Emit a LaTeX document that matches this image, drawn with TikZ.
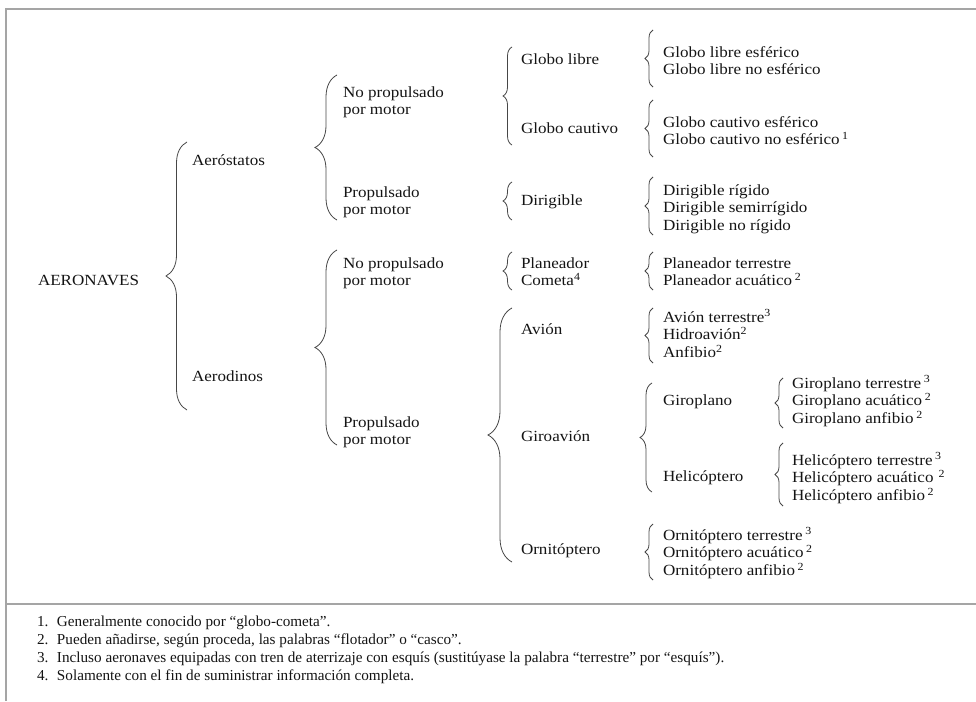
\documentclass[tikz,border=0pt]{standalone}
\usepackage{fontspec}
\setmainfont[FakeStretch=1.1]{Liberation Serif}
\newfontfamily\notefont{Liberation Serif}
\usetikzlibrary{decorations.pathreplacing}
\definecolor{txt}{RGB}{20,20,20}
\definecolor{brcol}{RGB}{70,70,70}
\definecolor{framecol}{RGB}{165,165,165}
\newcommand{\mlines}[1]{\begin{tabular}[t]{@{}l@{}}#1\end{tabular}}
\newcommand{\fn}[1]{\,\textsuperscript{#1}}
\newcommand{\fnn}[1]{\textsuperscript{#1}}
\begin{document}
\begin{tikzpicture}[x=1pt,y=-1pt,
  lbl/.style={inner sep=0pt, outer sep=0pt, anchor=base west, text=txt,
    font=\fontsize{15.5}{17.5}\selectfont},
  note/.style={inner sep=0pt, outer sep=0pt, anchor=base west, text=txt,
    font=\notefont\fontsize{15.2}{18}\selectfont},
  brc/.style={draw=brcol, line width=0.8pt, decorate,
    decoration={brace, amplitude=#1}},
  frame/.style={draw=framecol, line width=2pt}]
\useasboundingbox (0,0) rectangle (976,701);
% frame
\coordinate (fbl) at (6,701);
\coordinate (ftl) at (6,9.5);
\coordinate (ftr) at (976,9.5);
\coordinate (sl) at (6,604);
\coordinate (sr) at (976,604);
\draw[frame] (fbl) -- (ftl) -- (ftr);
\draw[frame] (sl) -- (sr);

% level 1
\node[lbl] (aer) at (38,285) {AERONAVES};
% level 2
\node[lbl] (aerost) at (192,165) {Aeróstatos};
\node[lbl] (aerod) at (192,381) {Aerodinos};
% level 3
\node[lbl] (np1) at (343,97) {\mlines{No propulsado\\por motor}};
\node[lbl] (p1) at (343,197) {\mlines{Propulsado\\por motor}};
\node[lbl] (np2) at (343,268) {\mlines{No propulsado\\por motor}};
\node[lbl] (p2) at (343,427) {\mlines{Propulsado\\por motor}};
% level 4
\node[lbl] (gl) at (521,64) {Globo libre};
\node[lbl] (gc) at (521,133) {Globo cautivo};
\node[lbl] (dir) at (521,205) {Dirigible};
\node[lbl] (plan) at (521,268) {\mlines{Planeador\\Cometa\fnn{4}}};
\node[lbl] (avion) at (521,334) {Avión};
\node[lbl] (giroav) at (521,441) {Giroavión};
\node[lbl] (orni) at (521,554) {Ornitóptero};
% level 5
\node[lbl] (gl2) at (663,57) {\mlines{Globo libre esférico\\Globo libre no esférico}};
\node[lbl] (gc2) at (663,127) {\mlines{Globo cautivo esférico\\Globo cautivo no esférico\fn{1}}};
\node[lbl] (dir2) at (663,195) {\mlines{Dirigible rígido\\Dirigible semirrígido\\Dirigible no rígido}};
\node[lbl] (plan2) at (663,268) {\mlines{Planeador terrestre\\Planeador acuático\fn{2}}};
\node[lbl] (avion2) at (663,322) {\mlines{Avión terrestre\fnn{3}\\Hidroavión\fnn{2}\\Anfibio\fnn{2}}};
\node[lbl] (girop) at (663,405) {Giroplano};
\node[lbl] (heli) at (663,481) {Helicóptero};
\node[lbl] (orni2) at (663,540) {\mlines{Ornitóptero terrestre\fn{3}\\Ornitóptero acuático\fn{2}\\Ornitóptero anfibio\fn{2}}};
% level 6
\node[lbl] (girop2) at (792,388) {\mlines{Giroplano terrestre\fn{3}\\Giroplano acuático\fn{2}\\Giroplano anfibio\fn{2}}};
\node[lbl] (heli2) at (792,465) {\mlines{Helicóptero terrestre\fn{3}\\Helicóptero acuático\,\fn{2}\\Helicóptero anfibio\fn{2}}};

% braces
\coordinate (b1b) at (187,410); \coordinate (b1t) at (187,142);
\coordinate (b2b) at (337,220); \coordinate (b2t) at (337,75);
\coordinate (b3b) at (337,445); \coordinate (b3t) at (337,250);
\coordinate (b4b) at (512,145); \coordinate (b4t) at (512,47);
\coordinate (b5b) at (512,220); \coordinate (b5t) at (512,182);
\coordinate (b6b) at (512,290); \coordinate (b6t) at (512,252);
\coordinate (b7b) at (512,562); \coordinate (b7t) at (512,308);
\coordinate (b8b) at (653,87);  \coordinate (b8t) at (653,30);
\coordinate (b9b) at (653,157); \coordinate (b9t) at (653,100);
\coordinate (b10b) at (653,235); \coordinate (b10t) at (653,177);
\coordinate (b11b) at (653,290); \coordinate (b11t) at (653,252);
\coordinate (b12b) at (653,363); \coordinate (b12t) at (653,308);
\coordinate (b13b) at (652,492); \coordinate (b13t) at (652,383);
\coordinate (b14b) at (653,580); \coordinate (b14t) at (653,524);
\coordinate (b15b) at (783,428); \coordinate (b15t) at (783,378);
\coordinate (b16b) at (783,506); \coordinate (b16t) at (783,443);
\draw[brc=21] (b1b) -- (b1t);
\draw[brc=22] (b2b) -- (b2t);
\draw[brc=22] (b3b) -- (b3t);
\draw[brc=9] (b4b) -- (b4t);
\draw[brc=9] (b5b) -- (b5t);
\draw[brc=9] (b6b) -- (b6t);
\draw[brc=24] (b7b) -- (b7t);
\draw[brc=8] (b8b) -- (b8t);
\draw[brc=8] (b9b) -- (b9t);
\draw[brc=8] (b10b) -- (b10t);
\draw[brc=8] (b11b) -- (b11t);
\draw[brc=8] (b12b) -- (b12t);
\draw[brc=12] (b13b) -- (b13t);
\draw[brc=8] (b14b) -- (b14t);
\draw[brc=8] (b15b) -- (b15t);
\draw[brc=8] (b16b) -- (b16t);

% footnotes
\node[note] (n1) at (37,626) {\makebox[20pt][l]{1.}Generalmente conocido por “globo-cometa”.};
\node[note] (n2) at (37,644) {\makebox[20pt][l]{2.}Pueden añadirse, según proceda, las palabras “flotador” o “casco”.};
\node[note] (n3) at (37,662) {\makebox[20pt][l]{3.}Incluso aeronaves equipadas con tren de aterrizaje con esquís (sustitúyase la palabra “terrestre” por “esquís”).};
\node[note] (n4) at (37,680) {\makebox[20pt][l]{4.}Solamente con el fin de suministrar información completa.};
\end{tikzpicture}
\end{document}
